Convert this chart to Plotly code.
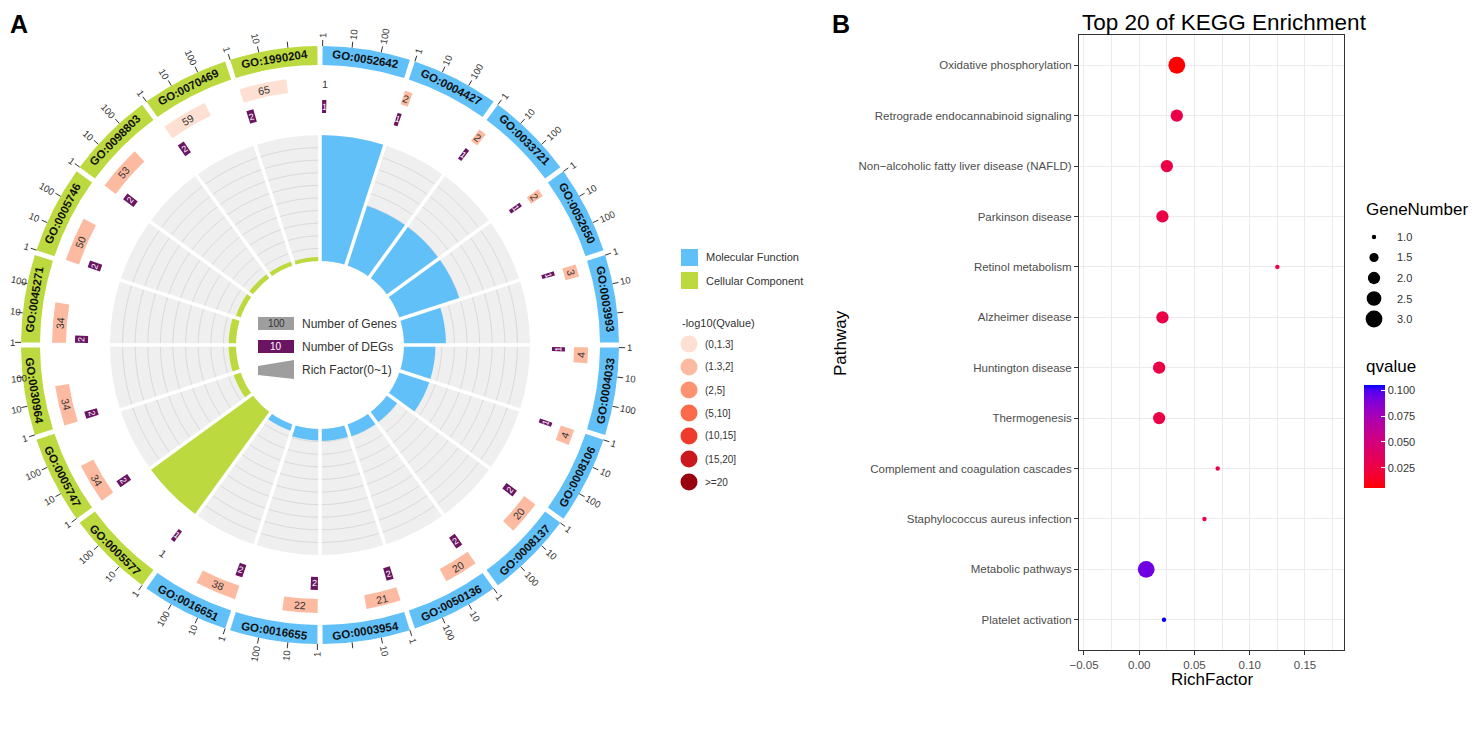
import numpy as np
import plotly.graph_objects as go

# page is photographed at 1480x743; the html body adds an 8px margin
PAGE_W, PAGE_H, OFF = 1480, 743, 8
FW, FH = PAGE_W - 2 * OFF, PAGE_H - 2 * OFF

# ---------------- Panel A data ----------------
go_terms = ["GO:0052642", "GO:0004427", "GO:0033721", "GO:0052650", "GO:0003993",
            "GO:0004033", "GO:0008106", "GO:0008137", "GO:0050136", "GO:0003954",
            "GO:0016655", "GO:0016651", "GO:0005577", "GO:0005747", "GO:0030964",
            "GO:0045271", "GO:0005746", "GO:0098803", "GO:0070469", "GO:1990204"]
go_class = ["Molecular Function"] * 12 + ["Cellular Component"] * 8
gene_counts = [1, 2, 2, 2, 3, 4, 4, 20, 20, 21, 22, 38, 1, 34, 34, 34, 50, 53, 59, 65]
deg_counts = [1, 1, 1, 1, 1, 1, 1, 2, 2, 2, 2, 2, 1, 2, 2, 2, 2, 2, 2, 2]
qvalue_bin = ["(1.3,2]"] * 18 + ["(0,1.3]"] * 2
axis_ticks = [1, 10, 100]
axis_tick_labels = ["1", "10", "100"]

bin_labels = ["(0,1.3]", "(1.3,2]", "(2,5]", "(5,10]", "(10,15]", "(15,20]", ">=20"]
bin_colors = ["#FEE0D2", "#FCBBA1", "#FC9272", "#FB6A4A", "#EF3B2C", "#CB181D", "#99000D"]
class_names = ["Molecular Function", "Cellular Component"]
class_colors = {"Molecular Function": "#62C0F9", "Cellular Component": "#BCDA3F"}
DEG_COLOR = "#6B1462"

# ---------------- Panel B data ----------------
pathways = ["Oxidative phosphorylation", "Retrograde endocannabinoid signaling",
            "Non\u2212alcoholic fatty liver disease (NAFLD)", "Parkinson disease",
            "Retinol metabolism", "Alzheimer disease", "Huntington disease",
            "Thermogenesis", "Complement and coagulation cascades",
            "Staphylococcus aureus infection", "Metabolic pathways", "Platelet activation"]
rich_factor = [0.034, 0.034, 0.025, 0.021, 0.125, 0.021, 0.018, 0.018, 0.071, 0.059, 0.0063, 0.0224]
gene_number = [3, 2, 2, 2, 1, 2, 2, 2, 1, 1, 3, 1]
qvalue = [0.0055, 0.027, 0.027, 0.027, 0.027, 0.027, 0.027, 0.027, 0.027, 0.027, 0.093, 0.105]
x_tickvals = [-0.05, 0.0, 0.05, 0.10, 0.15]
x_ticktext = ["\u22120.05", "0.00", "0.05", "0.10", "0.15"]
size_legend_vals = [1.0, 1.5, 2.0, 2.5, 3.0]
q_tickvals = [0.025, 0.050, 0.075, 0.100]
q_ticktext = ["0.025", "0.050", "0.075", "0.100"]

FONT = "Liberation Sans, Arial, Helvetica, sans-serif"

# ---------- colour ramp in CIELAB (red -> blue) ----------
_M = np.array([[0.4124564, 0.3575761, 0.1804375],
               [0.2126729, 0.7151522, 0.0721750],
               [0.0193339, 0.1191920, 0.9503041]])
_WP = np.array([0.95047, 1.0, 1.08883])


def rgb2lab(rgb):
    c = np.array(rgb, float) / 255.0
    lin = np.where(c <= 0.04045, c / 12.92, ((c + 0.055) / 1.055) ** 2.4)
    xyz = _M @ lin / _WP
    d = 6 / 29
    f = np.where(xyz > d ** 3, np.cbrt(xyz), xyz / (3 * d * d) + 4 / 29)
    return np.array([116 * f[1] - 16, 500 * (f[0] - f[1]), 200 * (f[1] - f[2])])


def lab2rgb(lab):
    L, a, b = lab
    fy = (L + 16) / 116
    f = np.array([fy + a / 500, fy, fy - b / 200])
    d = 6 / 29
    xyz = np.where(f > d, f ** 3, 3 * d * d * (f - 4 / 29)) * _WP
    lin = np.clip(np.linalg.solve(_M, xyz), 0, 1)
    c = np.where(lin <= 0.0031308, 12.92 * lin, 1.055 * lin ** (1 / 2.4) - 0.055)
    c = np.clip(c, 0, 1)
    return "rgb(%d,%d,%d)" % tuple(int(round(v * 255)) for v in c)


lab_lo, lab_hi = rgb2lab((255, 0, 0)), rgb2lab((0, 0, 255))
colorscale = [[t, lab2rgb(lab_lo + t * (lab_hi - lab_lo))] for t in np.linspace(0, 1, 21)]


def px(x):   # page pixel -> paper fraction
    return (x - OFF) / FW


def py(y):
    return 1 - (y - OFF) / FH


# ---------------- geometry of the circular plot ----------------
CX, CY = 320, 345          # page pixels
S = CX - OFF               # half-size of square polar domain (1 unit = 1 px)
dom_x = [px(CX - S), px(CX + S)]
dom_y = [py(CY + S), py(CY - S)]
N = len(go_terms)
SECT = 360 / N
GAP = 1.0
DEC = (SECT - GAP) / 3.0
R_IN, R_RF = 84, 210
R_D0, R_D1 = 232, 245
R_G0, R_G1 = 254, 268
R_O0, R_O1 = 280, 299

starts = [i * SECT + GAP / 2 for i in range(N)]
centers = [i * SECT + SECT / 2 for i in range(N)]
cls_col = [class_colors[c] for c in go_class]
rich_go = [d / g for d, g in zip(deg_counts, gene_counts)]


def tang(th):
    t = th % 360
    if 90 < t <= 270:
        return t - 180
    return t if t <= 90 else t - 360


def radial(th):
    t = th % 360
    return t - 90 if t <= 180 else t - 270


def pol(r, th):
    return r * np.sin(np.radians(th)), r * np.cos(np.radians(th))


fig = go.Figure()

# background cells
fig.add_trace(go.Barpolar(r=[R_RF - R_IN] * N, base=[R_IN] * N, theta=centers, width=[SECT] * N,
                          marker=dict(color="#EFEFEF", line=dict(width=0)), subplot="polar",
                          hoverinfo="skip", showlegend=False))
gr, gt = [], []
for i in range(N):
    for k in range(1, 10):
        ths = list(np.linspace(i * SECT + 0.6, (i + 1) * SECT - 0.6, 30))
        gt += ths + [None]
        gr += [R_IN + k * (R_RF - R_IN) / 10] * len(ths) + [None]
fig.add_trace(go.Scatterpolar(r=gr, theta=gt, mode="lines", line=dict(color="#D2D2D2", width=0.8),
                              subplot="polar", hoverinfo="skip", showlegend=False))

# rich factor bars
fig.add_trace(go.Barpolar(r=[v * (R_RF - R_IN) for v in rich_go], base=[R_IN] * N, theta=centers,
                          width=[SECT] * N, marker=dict(color=cls_col, line=dict(width=0)),
                          subplot="polar2", hoverinfo="skip", showlegend=False))
# white separators
sr, st = [], []
for i in range(N):
    sr += [R_IN - 3, R_RF + 3, None]
    st += [i * SECT, i * SECT, None]
fig.add_trace(go.Scatterpolar(r=sr, theta=st, mode="lines", line=dict(color="white", width=3.5),
                              subplot="polar2", hoverinfo="skip", showlegend=False))
# outer ring
fig.add_trace(go.Barpolar(r=[R_O1 - R_O0] * N, base=[R_O0] * N, theta=centers, width=[SECT - GAP] * N,
                          marker=dict(color=cls_col, line=dict(width=0)), subplot="polar2",
                          hoverinfo="skip", showlegend=False))
# gene-number bars (log scale)
gw = [np.log10(g) * DEC for g in gene_counts]
bin_map = dict(zip(bin_labels, bin_colors))
idx = [i for i in range(N) if gw[i] > 0]
fig.add_trace(go.Barpolar(r=[R_G1 - R_G0] * len(idx), base=[R_G0] * len(idx),
                          theta=[starts[i] + gw[i] / 2 for i in idx], width=[gw[i] for i in idx],
                          marker=dict(color=[bin_map[qvalue_bin[i]] for i in idx], line=dict(width=0)),
                          subplot="polar2", hoverinfo="skip", showlegend=False))
# DEG bars
dw = [max(np.log10(d) * DEC, 1.0) for d in deg_counts]
fig.add_trace(go.Barpolar(r=[R_D1 - R_D0] * N, base=[R_D0] * N,
                          theta=[starts[i] + dw[i] / 2 for i in range(N)], width=dw,
                          marker=dict(color=DEG_COLOR, line=dict(width=0)),
                          subplot="polar2", hoverinfo="skip", showlegend=False))
# axis ticks
tr, tt = [], []
for i in range(N):
    for v in axis_ticks:
        th = starts[i] + np.log10(v) * DEC
        tr += [R_O1, R_O1 + 6, None]
        tt += [th, th, None]
fig.add_trace(go.Scatterpolar(r=tr, theta=tt, mode="lines", line=dict(color="#333333", width=1),
                              subplot="polar2", hoverinfo="skip", showlegend=False))

# overlay cartesian axis for text placement
fig.add_trace(go.Scatter(x=[None], y=[None], xaxis="x", yaxis="y", showlegend=False, hoverinfo="skip"))


def txt(x, y, text, size, color="#333333", ref="x", angle=0, xa="center", ya="middle"):
    d = dict(x=x, y=y, text=text, showarrow=False, textangle=angle, xanchor=xa, yanchor=ya,
             font=dict(size=size, color=color, family=FONT))
    if ref == "x":
        d.update(xref="x", yref="y")
    else:
        d.update(xref="paper", yref="paper")
    return d


def keep_inside(x, s, size, angle):
    # keep a rotated label inside the visible page on the left
    a = np.radians(angle)
    w, h = 0.56 * size * len(s) + 2, 1.15 * size
    ext = (w * abs(np.cos(a)) + h * abs(np.sin(a))) / 2
    lim = OFF + 1 + ext - CX
    return max(x, lim)


ann = []
TICK_FS = 9.5
for i in range(N):
    x, y = pol((R_O0 + R_O1) / 2, centers[i])
    ann.append(txt(x, y, "<b>%s</b>" % go_terms[i], 11.5, "#111111", angle=tang(centers[i])))
    for v, s in zip(axis_ticks, axis_tick_labels):
        th = starts[i] + np.log10(v) * DEC
        x, y = pol(R_O1 + 8 + 2.7 * len(s), th)
        x = keep_inside(x, s, TICK_FS, radial(th))
        ann.append(txt(x, y, s, TICK_FS, angle=radial(th)))
    thg = starts[i] + (gw[i] / 2 if gw[i] > 0 else 0.6)
    x, y = pol((R_G0 + R_G1) / 2, thg)
    ann.append(txt(x, y, str(gene_counts[i]), 10.5, angle=tang(thg)))
    thd = starts[i] + dw[i] / 2
    x, y = pol((R_D0 + R_D1) / 2, thd)
    ann.append(txt(x, y, str(deg_counts[i]), 9, "white", angle=tang(thd)))

shapes = []
# centre legend (coordinates relative to the circle centre, y up)
shapes.append(dict(type="rect", xref="x", yref="y", x0=-62, x1=-26, y0=15, y1=28,
                   fillcolor="#9E9E9E", line=dict(width=0)))
shapes.append(dict(type="rect", xref="x", yref="y", x0=-62, x1=-26, y0=-8, y1=5,
                   fillcolor=DEG_COLOR, line=dict(width=0)))
shapes.append(dict(type="path", xref="x", yref="y", path="M -62,-21 L -26,-15 L -26,-34 L -62,-30 Z",
                   fillcolor="#9E9E9E", line=dict(width=0)))
ann += [
    txt(-44, 21.5, "100", 10),
    txt(-44, -1.5, "10", 10, "white"),
    txt(-20, 21.5, "Number of Genes", 12, xa="left"),
    txt(-20, -1.5, "Number of DEGs", 12, xa="left"),
    txt(-20, -25, "Rich Factor(0~1)", 12, xa="left"),
]

# class legend
for k, c in enumerate(class_names):
    y0 = 249 + 23 * k
    shapes.append(dict(type="rect", xref="paper", yref="paper", x0=px(681), x1=px(698),
                       y0=py(y0 + 17), y1=py(y0), fillcolor=class_colors[c], line=dict(width=0)))
    ann.append(txt(px(704), py(y0 + 8.5), c, 11, ref="paper", xa="left"))
ann.append(txt(px(680), py(323), "-log10(Qvalue)", 11, ref="paper", xa="left"))
for k, (lab, col) in enumerate(zip(bin_labels, bin_colors)):
    yc = 344 + 23 * k
    shapes.append(dict(type="circle", xref="paper", yref="paper", x0=px(689 - 8.5), x1=px(689 + 8.5),
                       y0=py(yc + 8.5), y1=py(yc - 8.5), fillcolor=col, line=dict(width=0)))
    ann.append(txt(px(703), py(yc), lab, 10, ref="paper", xa="left"))

# ---------------- Panel B ----------------
D_MIN, D_MAX = 4.4, 16.8
g_lo, g_hi = min(gene_number), max(gene_number)


def diam(g):
    return float(np.sqrt(D_MIN ** 2 + (g - g_lo) / (g_hi - g_lo) * (D_MAX ** 2 - D_MIN ** 2)))


fig.add_trace(go.Scatter(
    x=rich_factor, y=pathways, mode="markers", xaxis="x2", yaxis="y2", showlegend=False,
    marker=dict(size=[diam(g) for g in gene_number], color=qvalue, colorscale=colorscale,
                cmin=min(qvalue), cmax=max(qvalue), line=dict(width=0), opacity=1,
                showscale=True,
                colorbar=dict(x=px(1364), xanchor="left", y=py(436.5), yanchor="middle",
                              len=103, lenmode="pixels", thickness=21, thicknessmode="pixels",
                              outlinewidth=0, xpad=0, ypad=0, ticks="inside", ticklen=4,
                              tickcolor="white", tickvals=q_tickvals, ticktext=q_ticktext,
                              tickfont=dict(size=11, color="#333333", family=FONT)))))

for k, v in enumerate(size_legend_vals):
    yc = 237 + 20.5 * k
    d = diam(v)
    shapes.append(dict(type="circle", xref="paper", yref="paper", x0=px(1374 - d / 2), x1=px(1374 + d / 2),
                       y0=py(yc + d / 2), y1=py(yc - d / 2), fillcolor="black", line=dict(width=0)))
    ann.append(txt(px(1395), py(yc), "%.1f" % v, 11, ref="paper", xa="left"))

ann += [
    txt(px(1364), py(209), "GeneNumber", 17, "black", ref="paper", xa="left"),
    txt(px(1364), py(366), "qvalue", 17, "black", ref="paper", xa="left"),
    txt(px(1080), py(OFF), "Top 20 of KEGG Enrichment", 22.5, "black", ref="paper", xa="left", ya="top"),
    txt(px(840), py(343), "Pathway", 17, "black", ref="paper", angle=-90),
    txt(px(1212), py(679), "RichFactor", 17, "black", ref="paper"),
    txt(px(OFF), py(OFF), "<b>A</b>", 25, "black", ref="paper", xa="left", ya="top"),
    txt(px(841), py(OFF), "<b>B</b>", 25, "black", ref="paper", ya="top"),
]

polar_base = dict(domain=dict(x=dom_x, y=dom_y), bgcolor="rgba(0,0,0,0)", barmode="overlay",
                  radialaxis=dict(range=[0, S], visible=False, showgrid=False),
                  angularaxis=dict(rotation=90, direction="clockwise", visible=False, showgrid=False))

fig.update_layout(
    width=FW, height=FH, margin=dict(l=0, r=0, t=0, b=0, pad=0, autoexpand=False),
    paper_bgcolor="white", plot_bgcolor="rgba(0,0,0,0)",
    font=dict(family=FONT),
    polar=polar_base, polar2=polar_base,
    xaxis=dict(domain=dom_x, range=[-S, S], visible=False, fixedrange=True, automargin=False),
    yaxis=dict(domain=dom_y, range=[-S, S], visible=False, fixedrange=True, automargin=False),
    xaxis2=dict(domain=[px(1079), px(1344)], anchor="y2", range=[-0.0545, 0.1853], automargin=False,
                tickmode="array", tickvals=x_tickvals, ticktext=x_ticktext,
                showgrid=True, gridcolor="#EBEBEB", gridwidth=1, zeroline=False,
                minor=dict(tickmode="linear", tick0=-0.025, dtick=0.05, showgrid=True,
                           gridcolor="#EBEBEB", gridwidth=0.6),
                showline=True, mirror=True, linecolor="#333333", linewidth=1,
                ticks="outside", ticklen=4, tickcolor="#333333",
                tickfont=dict(size=11.5, color="#4D4D4D", family=FONT)),
    yaxis2=dict(domain=[py(650), py(35)], anchor="x2", type="category", automargin=False,
                categoryorder="array", categoryarray=pathways,
                range=[len(pathways) - 1 + 0.6, -0.6],
                showgrid=True, gridcolor="#EBEBEB", gridwidth=1, zeroline=False,
                showline=True, mirror=True, linecolor="#333333", linewidth=1,
                ticks="outside", ticklen=4, tickcolor="#333333",
                tickfont=dict(size=11.5, color="#4D4D4D", family=FONT)),
    annotations=ann, shapes=shapes,
)

fig.write_html("out.html")
